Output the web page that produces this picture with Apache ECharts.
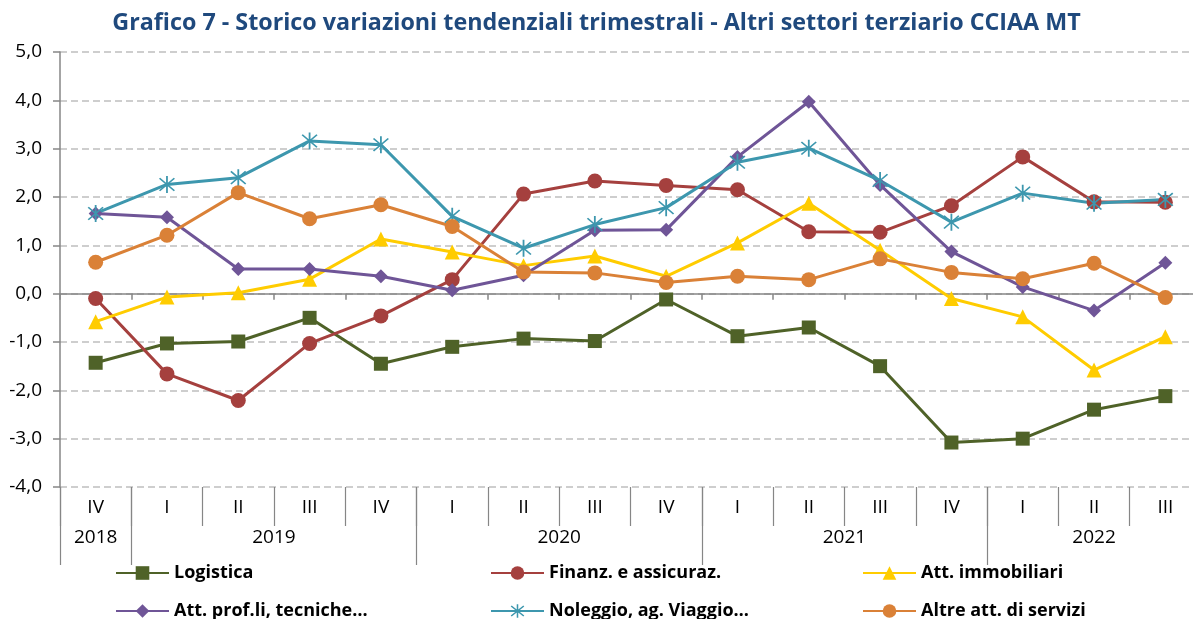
<!DOCTYPE html>
<html>
<head>
<meta charset="utf-8">
<script src="https://cdn.jsdelivr.net/npm/echarts@6/dist/echarts.min.js"></script>
<style>html,body{margin:0;padding:0;background:#fff}#c{width:1193px;height:619px}</style>
</head>
<body>
<div id="c"></div>
<script>
const quarters = ['IV','I','II','III','IV','I','II','III','IV','I','II','III','IV','I','II','III'];
const years = ['2018','2019','2020','2021','2022'];
const quartersPerYear = [1,4,4,4,3];
const yTicks = {min: -4, max: 5, interval: 1};

const logistica  = [-1.43,-1.03,-0.99,-0.50,-1.45,-1.10,-0.93,-0.98,-0.12,-0.88,-0.70,-1.50,-3.08,-3.00,-2.40,-2.12];
const finanz     = [-0.10,-1.66,-2.21,-1.03,-0.46,0.29,2.06,2.33,2.24,2.15,1.28,1.27,1.82,2.83,1.90,1.89];
const immobiliari= [-0.58,-0.07,0.02,0.30,1.13,0.86,0.58,0.78,0.36,1.05,1.87,0.90,-0.10,-0.48,-1.58,-0.89];
const profli     = [1.66,1.58,0.51,0.51,0.36,0.07,0.38,1.31,1.32,2.83,3.97,2.25,0.87,0.14,-0.35,0.64];
const noleggio   = [1.66,2.26,2.40,3.16,3.08,1.60,0.94,1.43,1.78,2.72,3.01,2.34,1.48,2.08,1.87,1.95];
const altre      = [0.65,1.21,2.09,1.55,1.84,1.39,0.45,0.43,0.23,0.36,0.29,0.72,0.44,0.31,0.63,-0.08];

const seriesNames = ['Logistica','Finanz. e assicuraz.','Att. immobiliari','Att. prof.li, tecniche…','Noleggio, ag. Viaggio…','Altre att. di servizi'];
const seriesData = [logistica, finanz, immobiliari, profli, noleggio, altre];
const colors = ['#4F6228','#A5403E','#FFCC00','#6F5597','#3D97AE','#DA8137'];
const symbols = ['rect','circle','triangle','diamond',
  'path://M-0.9,-10L0.9,-10L0.9,10L-0.9,10ZM-8,-6.8L-6.8,-8L8,6.8L6.8,8ZM6.8,-8L8,-6.8L-6.8,8L-8,6.8Z',
  'circle'];
const symbolSizes = [14,15,15,14,[16,17],15];
// legend layout: column x and row for each series
const legendCols = [115, 490, 862, 115, 490, 862];
const legendRows = [0, 0, 0, 1, 1, 1];

// build year half-grid axis
const yearSlots = [];
const yearBoundaries = new Set();
const yearCenters = new Set();
let k = 0;
years.forEach((y,i)=>{
  yearBoundaries.add(k*2);
  yearCenters.add(k*2 + quartersPerYear[i]);
  k += quartersPerYear[i];
});
yearBoundaries.add(k*2);
for (let j=0;j<=k*2;j++) yearSlots.push('');
{
  let kk=0;
  years.forEach((y,i)=>{ yearSlots[kk*2+quartersPerYear[i]] = y; kk+=quartersPerYear[i]; });
}

const FONT = '"Open Sans", sans-serif';
const axisGray = '#868686';

const chart = echarts.init(document.getElementById('c'));
chart.setOption({
  animation: false,
  title: {
    text: 'Grafico 7 - Storico variazioni tendenziali trimestrali - Altri settori terziario CCIAA MT',
    left: 'center', top: 7,
    textStyle: {fontFamily: FONT, fontSize: 23.3, fontWeight: 'bold', color: '#1F497D'}
  },
  grid: {left: 60, top: 52, width: 1141, height: 435, outerBoundsMode: 'none', containLabel: false},
  legend: seriesNames.map((name, i) => ({
    left: legendCols[i], top: 564 + legendRows[i]*38, padding: 0,
    data: [name],
    itemWidth: 53, itemHeight: 17, itemGap: 0,
    textStyle: {fontFamily: FONT, fontSize: 18, fontWeight: 'bold', color: '#000'}
  })),
  xAxis: [
    {
      type: 'category', data: quarters, boundaryGap: true, position: 'bottom',
      axisLine: {onZero: true, lineStyle: {color: axisGray, width: 1.5}},
      axisTick: {show: true, interval: 0, length: 6, lineStyle: {color: axisGray, width: 1.5}},
      axisLabel: {show: false}, splitLine: {show: false}
    },
    {
      type: 'category', data: quarters, boundaryGap: true, position: 'bottom',
      axisLine: {show: false, onZero: false},
      axisTick: {show: true, interval: 0, length: 39, lineStyle: {color: axisGray, width: 1.2}},
      axisLabel: {interval: 0, margin: 11, fontFamily: FONT, fontSize: 19, color: '#000'},
      splitLine: {show: false}
    },
    {
      type: 'category', data: yearSlots, boundaryGap: false, position: 'bottom',
      axisLine: {show: false, onZero: false},
      axisTick: {show: true, length: 78, interval: (i)=>yearBoundaries.has(i), lineStyle: {color: axisGray, width: 1.2}},
      axisLabel: {interval: (i)=>yearCenters.has(i), margin: 41, fontFamily: FONT, fontSize: 19, color: '#000'},
      splitLine: {show: false}
    }
  ],
  yAxis: {
    type: 'value', min: yTicks.min, max: yTicks.max, interval: yTicks.interval,
    axisLine: {show: true, lineStyle: {color: axisGray, width: 1.5}},
    axisTick: {show: true, length: 7, lineStyle: {color: axisGray, width: 1.5}},
    axisLabel: {fontFamily: FONT, fontSize: 19, color: '#000', margin: 18,
      formatter: v => v.toFixed(1).replace('.', ',')},
    splitLine: {lineStyle: {color: '#BFBFBF', width: 1.5, type: [7,4]}}
  },
  series: seriesNames.map((name,i)=>({
    name, type: 'line', xAxisIndex: 0, data: seriesData[i],
    symbol: symbols[i], symbolSize: symbolSizes[i], showAllSymbol: true,
    lineStyle: {color: colors[i], width: 3},
    itemStyle: {color: colors[i]},
    emphasis: {disabled: true}
  }))
});
</script>
</body>
</html>
